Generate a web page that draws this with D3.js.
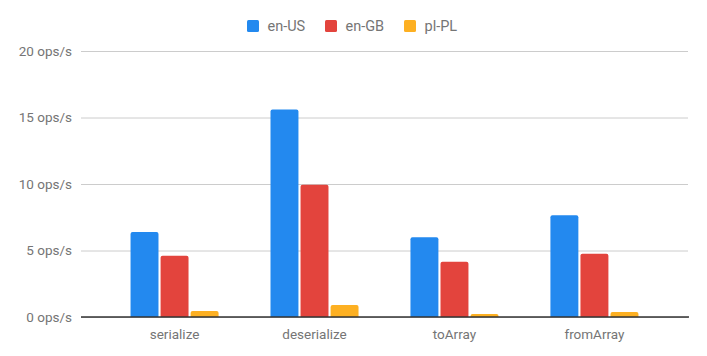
<!DOCTYPE html>
<html><head><meta charset="utf-8">
<script src="https://cdn.jsdelivr.net/npm/d3@7"></script>
<style>body{margin:0;background:#fff}svg{display:block;font-family:Roboto,sans-serif}</style>
</head><body>
<svg id="c" width="707" height="356"></svg>
<script>
const categories = ["serialize","deserialize","toArray","fromArray"];
const seriesNames = ["en-US","en-GB","pl-PL"];
const enUS = [6.4, 15.6, 6.0, 7.65];
const enGB = [4.6, 9.95, 4.15, 4.75];
const plPL = [0.45, 0.9, 0.22, 0.38];
const yTicks = [0,5,10,15,20];
const colors = ["#2389ef","#e3443d","#fdb022"];
const seriesValues = [enUS, enGB, plPL];

(function(){
const svg = d3.select("#c");
const pl = 81, pr = 688, pt = 51, pb = 317;
const y = d3.scaleLinear().domain([0,20]).range([pb, pt]);
const x = d3.scaleBand().domain(categories).range([pl, pr]).paddingInner(0.371).paddingOuter(0.354);
const xs = d3.scaleBand().domain(seriesNames).range([0, x.bandwidth()]).paddingInner(0.07);

const yAxis = d3.axisLeft(y).tickValues(yTicks).tickSize(-(pr-pl)).tickPadding(9).tickFormat(d => d + " ops/s");
const gy = svg.append("g").attr("transform", `translate(${pl},0)`).call(yAxis);
gy.select(".domain").remove();
gy.selectAll(".tick line").attr("stroke","#cccccc").attr("stroke-width",1);
gy.selectAll(".tick text").attr("fill","#757575").attr("font-size","13.5px").attr("font-family","Roboto");

function barPath(x0, w, y0, y1, r) {
  r = Math.min(r, (y0 - y1), w/2);
  return `M${x0},${y0}V${y1+r}Q${x0},${y1} ${x0+r},${y1}H${x0+w-r}Q${x0+w},${y1} ${x0+w},${y1+r}V${y0}Z`;
}
seriesNames.forEach((s, si) => {
  svg.append("g").selectAll("path").data(categories).join("path")
    .attr("fill", colors[si])
    .attr("d", (c, i) => barPath(x(c) + xs(s), xs.bandwidth(), y(0), y(seriesValues[si][i]), 2));
});

const xAxis = d3.axisBottom(x).tickSize(0).tickPadding(12);
const gx = svg.append("g").attr("transform", `translate(0,${pb})`).call(xAxis);
gx.select(".domain").remove();
gx.selectAll(".tick text").attr("fill","#757575").attr("font-size","13.5px").attr("font-family","Roboto");
svg.append("line").attr("x1",pl).attr("x2",pr+1).attr("y1",y(0)).attr("y2",y(0)).attr("stroke","#333").attr("stroke-width",1.5);

const legX = [247, 325, 404];
const lg = svg.append("g");
seriesNames.forEach((s, i) => {
  lg.append("rect").attr("x", legX[i]).attr("y", 20).attr("width", 12).attr("height", 12).attr("rx", 1.5).attr("fill", colors[i]);
  lg.append("text").attr("x", legX[i] + 20.5).attr("y", 31).attr("fill","#757575").attr("font-size","14.5px").attr("font-family","Roboto").text(s);
});
})();
</script>
</body></html>
